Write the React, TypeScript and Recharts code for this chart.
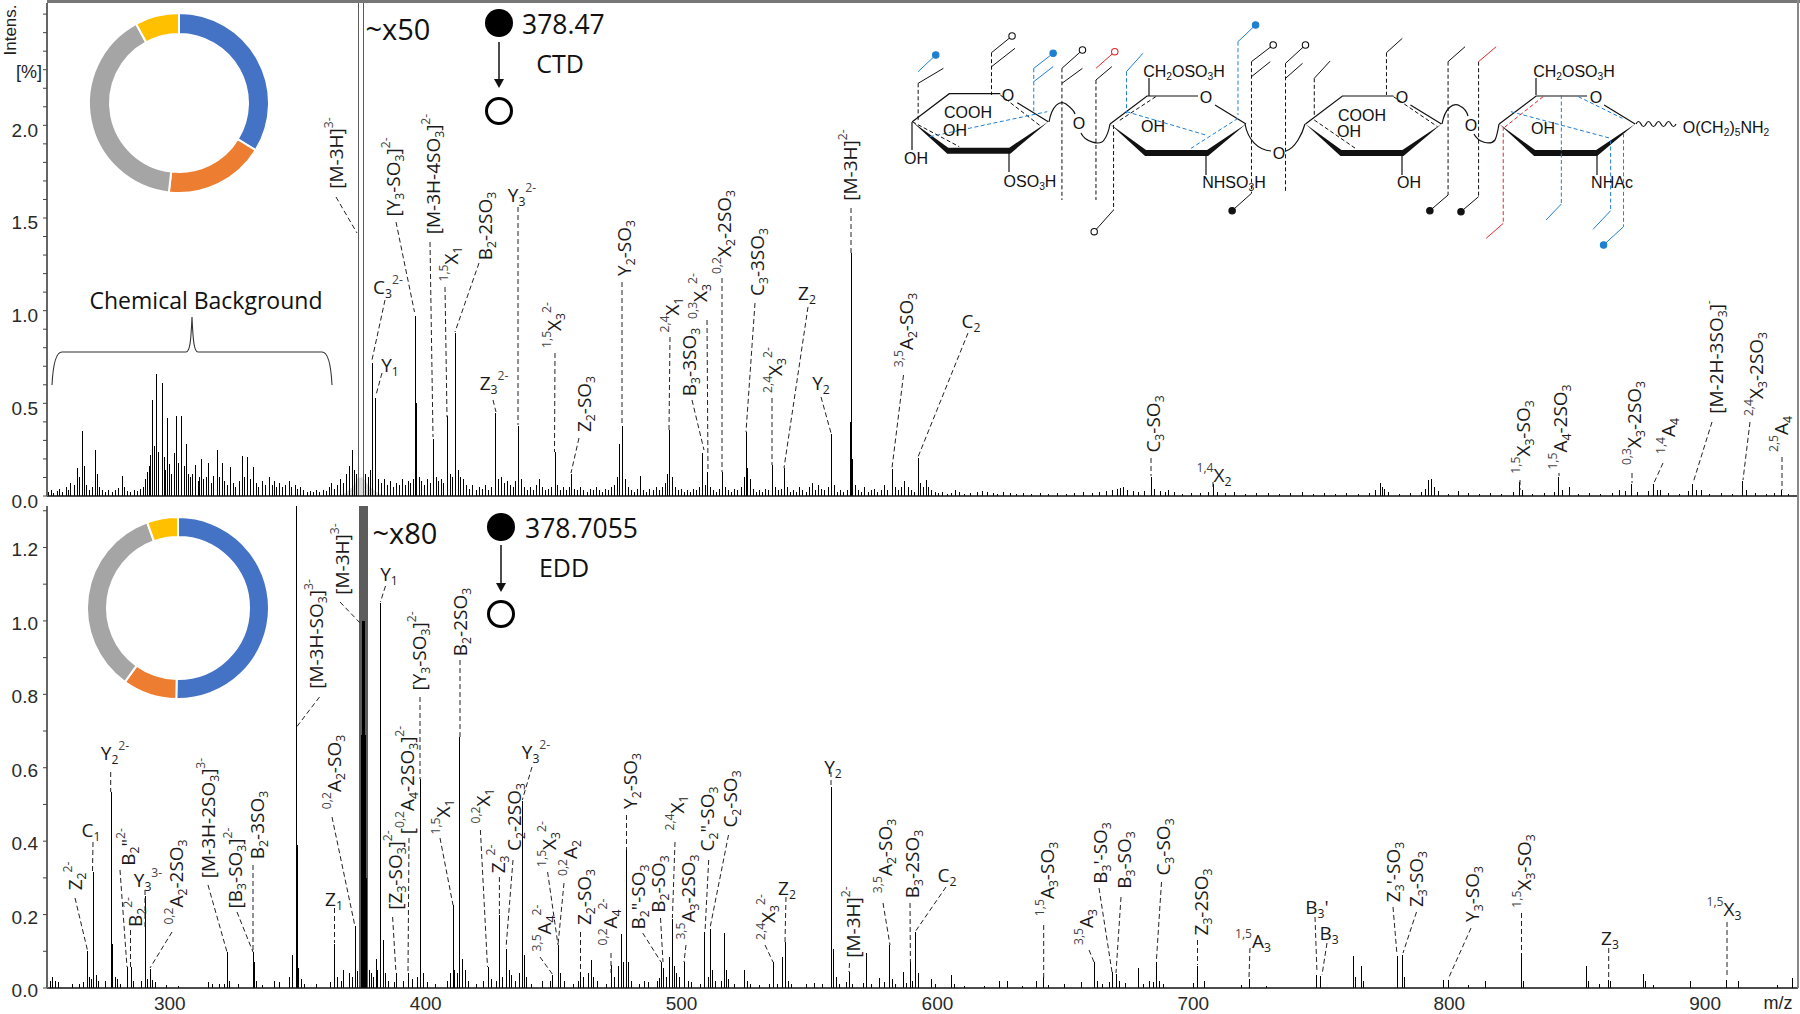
import { ComposedChart, Bar, Area, Cell, XAxis, YAxis, PieChart, Pie } from "recharts";

type Pair = [number, number];

// CTD spectrum (upper panel): m/z, relative intensity
const ctdPeaks: Pair[] = [
  [263.6, .15], [265.6, .35], [270.8, .25], [281.3, .11], [291, .13], [293.2, .52], [294.8, .66], [296.8, .61],
  [299, .42], [301.7, .23], [302.6, .43], [304.6, .43], [306.2, .28], [310, .165], [312.3, .2], [315, .18],
  [318.3, .25], [320.3, .18], [323.5, .155], [328.2, .215], [330.2, .21], [332.5, .155], [338.7, .1], [371.2, .25],
  [379.1, .72], [380.4, .53], [395.9, .97], [396.3, .5], [402.9, .31], [408.5, .43], [411.6, .88], [427.3, .45],
  [436, .38], [450.4, .24], [456.9, .12], [475.5, .28], [476.8, .38], [483.8, .11], [495.2, .355], [508.2, .23],
  [510, .13], [515.9, .13], [525.3, .345], [525.8, .15], [535.4, .165], [540.1, .15], [558.5, .335], [566.3, 1.31],
  [565.9, .4], [566.8, .2], [582.1, .147], [587.1, .08], [592.4, .205], [595.4, .085], [606.8, .03], [670.3, .04],
  [672.6, .05], [683.4, .105], [690.2, .03], [707.7, .065], [772.8, .07], [774.6, .04], [791.8, .085], [793, .09],
  [803.5, .025], [827.3, .075], [842.7, .1], [846.8, .05], [866.3, .03], [870.9, .067], [879.6, .067], [882.4, .03],
  [895, .067], [898.4, .03], [914.4, .08], [929.8, .03],
];
const ctdGrass: Pair[] = [
  [252.6, .02], [253.7, .03], [254.5, .015], [255.8, .025], [256.9, .04], [258.1, .02], [259.3, .05], [260.4, .03],
  [261.2, .07], [262.5, .06], [264.4, .1], [266.4, .16], [267.2, .06], [268.3, .03], [269.5, .05], [271.6, .12],
  [272.4, .05], [273.5, .03], [274.8, .02], [276, .035], [277.3, .02], [278.6, .03], [279.9, .045], [282.1, .05],
  [283.2, .025], [284.6, .02], [286, .03], [287.2, .025], [288.5, .04], [289.6, .05], [290.2, .09], [291.8, .16],
  [292.4, .22], [294, .27], [295.6, .24], [297.6, .21], [298.2, .14], [299.8, .17], [300.6, .12], [303.4, .18],
  [305.4, .16], [307, .12], [307.9, .1], [308.8, .12], [310.9, .08], [311.5, .1], [313.2, .09], [314.1, .1],
  [316, .07], [317, .11], [319.2, .1], [321.3, .08], [322.4, .06], [324.6, .07], [325.7, .05], [326.9, .08],
  [329.2, .1], [331.3, .09], [333.6, .07], [334.7, .05], [335.9, .08], [337.2, .06], [339.8, .06], [340.6, .08],
  [341.7, .05], [342.9, .07], [344, .05], [345.2, .06], [346.5, .08], [347.6, .05], [348.8, .06], [349.9, .04],
  [351, .05], [352.2, .03], [353.6, .02], [354.9, .025], [356.1, .02], [357.3, .03], [358.5, .02], [359.8, .03],
  [361, .025], [362.1, .05], [363, .07], [364.2, .04], [365.5, .06], [366.7, .09], [367.8, .07], [369, .12],
  [370.2, .16], [372.1, .14], [372.9, .12], [376.4, .12], [377.5, .1], [378.1, .14], [381.5, .09], [382.6, .07],
  [383.7, .09], [384.9, .06], [386, .08], [387.2, .05], [388.4, .07], [389.5, .06], [390.7, .09], [391.8, .06],
  [393, .08], [394.1, .07], [395, .09], [397.3, .1], [398.4, .08], [399.5, .06], [400.6, .09], [401.7, .07],
  [403.9, .1], [404.8, .08], [405.9, .09], [407, .07], [409.4, .12], [410.4, .1], [412.7, .14], [413.6, .1],
  [414.7, .09], [415.9, .06], [417.1, .04], [418.3, .06], [419.6, .03], [420.8, .05], [422, .04], [423.2, .06],
  [424.4, .03], [425.6, .05], [428.4, .09], [429.6, .1], [430.7, .07], [431.9, .08], [433, .06], [434.2, .05],
  [435.1, .08], [437.2, .09], [438.4, .05], [439.5, .03], [440.8, .05], [442, .03], [443.2, .06], [444.4, .09],
  [445.6, .05], [446.8, .03], [448, .04], [449.2, .05], [451.4, .06], [452.5, .03], [453.8, .05], [455, .03],
  [456.1, .05], [458, .04], [459.2, .03], [460.4, .05], [461.6, .03], [462.9, .02], [464.1, .04], [465.3, .03],
  [466.5, .05], [467.7, .03], [468.9, .02], [470.2, .04], [471.4, .03], [472.6, .05], [473.8, .06], [474.7, .1],
  [477.9, .09], [479, .05], [480.2, .03], [481.4, .02], [482.6, .04], [485, .03], [486.2, .02], [487.5, .04],
  [488.7, .03], [490, .05], [491.2, .03], [492.4, .05], [493.5, .07], [494.4, .12], [496.2, .1], [497.3, .05],
  [498.5, .03], [499.7, .04], [500.9, .02], [502.1, .03], [503.4, .02], [504.6, .04], [505.8, .03], [507, .05],
  [509.1, .06], [511.2, .05], [512.4, .03], [513.6, .02], [514.8, .04], [517, .05], [518.2, .03], [519.5, .02],
  [520.7, .04], [521.9, .03], [523.1, .05], [524.4, .1], [526.7, .09], [527.8, .04], [529, .02], [530.2, .03],
  [531.4, .02], [532.7, .04], [533.9, .03], [536.5, .05], [537.7, .03], [538.9, .04], [541.2, .05], [542.4, .02],
  [543.7, .03], [544.9, .02], [546.1, .05], [547.3, .03], [548.6, .02], [549.8, .05], [551, .07], [552.2, .03],
  [553.5, .06], [554.7, .04], [555.9, .03], [557.1, .05], [559.6, .06], [560.8, .02], [562, .03], [563.3, .02],
  [564.5, .03], [567.8, .06], [569, .03], [570.3, .02], [571.5, .05], [572.8, .02], [574, .03], [575.3, .04],
  [576.5, .02], [577.8, .03], [579, .06], [580.2, .03], [583.3, .05], [584.6, .03], [585.8, .05], [588.4, .05],
  [589.6, .03], [590.9, .02], [593.4, .07], [594.5, .05], [596.5, .05], [597.7, .03], [599, .02], [600.4, .015],
  [602, .02], [603.8, .012], [605.3, .018], [608.4, .02], [610.5, .012], [612.9, .018], [615.4, .02], [617.6, .025],
  [619.3, .02], [621.7, .018], [623.4, .012], [625.8, .02], [628.3, .015], [630.9, .012], [633.4, .018], [636.6, .012],
  [640, .015], [643.2, .012], [646.8, .018], [650.1, .012], [653.6, .015], [657, .02], [660.4, .015], [663.2, .02],
  [665.9, .025], [668.4, .03], [671.4, .045], [674.1, .03], [676.4, .025], [678.6, .02], [680.7, .025], [684.6, .04],
  [686.9, .025], [688.8, .02], [692.4, .02], [695.7, .012], [699.2, .018], [702.8, .015], [705.9, .02], [709.3, .02],
  [712.6, .015], [716.1, .02], [720.4, .012], [724.7, .015], [729.1, .018], [733.6, .012], [737.9, .015], [742.4, .02],
  [746.8, .012], [751.2, .015], [755.4, .012], [759.8, .018], [764.3, .012], [768.6, .018], [771.1, .03], [773.7, .05],
  [776.1, .02], [780.3, .012], [784.7, .018], [788.9, .02], [790.6, .04], [794.2, .05], [795.8, .025], [799.4, .012],
  [807.2, .015], [811.6, .012], [816.1, .018], [820.4, .012], [824.9, .02], [828.6, .03], [832.4, .012], [836.9, .015],
  [840.8, .02], [844.1, .03], [850.2, .012], [854.7, .015], [859.1, .012], [863.6, .018], [868.9, .025], [873.4, .02],
  [877.8, .025], [881.2, .03], [885.7, .015], [889.9, .012], [893.4, .025], [896.4, .03], [901.6, .012], [906.2, .015],
  [910.7, .012], [915.9, .03], [919.4, .015], [923.8, .012], [927.1, .015], [932.6, .012],
];
const ctdPrecursor: Pair[] = [[373.4, 2.66], [375.6, 2.66]];
const ctdIsolation: Pair[] = [[366, 0], [369, .02], [371.5, .05], [373.5, .1], [375.5, .1], [378, .05], [381, .02], [384, 0]];

// EDD spectrum (lower panel)
const eddPeaks: Pair[] = [
  [252.3, .057], [254, .03], [267.9, .1], [270, .316], [277, .534], [277.6, .12], [283.4, .057], [284.8, .057],
  [290.5, .25], [292.5, .053], [322.5, .098], [332.7, .098], [333, .07], [347.8, .089], [349.3, 1.313], [349.7, .39],
  [350.2, .055], [364.5, .12], [368, .05], [372.4, .17], [380.6, .08], [382.4, 1.05], [383.3, .13], [388.6, .04],
  [393.3, .04], [397.8, .568], [399, .04], [410.8, .225], [411.4, .05], [413.3, .684], [414.2, .08], [424.3, .057],
  [428.9, .198], [431.5, .107], [432.6, .05], [437.8, .51], [438.4, .09], [449.7, .035], [451.7, .116], [460.6, .044],
  [464.7, .075], [472.5, .062], [476.5, .148], [478.4, .375], [479.3, .07], [485.6, .02], [492.1, .07], [493, .055],
  [495.2, .084], [496.5, .189], [497.2, .06], [501.1, .07], [502.7, .02], [509.1, .153], [511.3, .162], [512.2, .05],
  [516.7, .15], [517.4, .05], [524.6, .05], [525.8, .02], [535.7, .07], [539.3, .084], [540.5, .125], [541.6, .02],
  [558.4, .548], [559.5, .107], [560.4, .03], [565.5, .044], [572.2, .095], [577.3, .028], [581.4, .116], [582.2, .025],
  [586.7, .044], [589.5, .07], [591.2, .153], [592.4, .04], [597.6, .025], [605.5, .035], [624.2, .02], [627.4, .02],
  [638.6, .02], [641.5, .03], [649.7, .012], [656.3, .016], [661.3, .07], [662.4, .02], [668.2, .044], [669.8, .038],
  [671.2, .02], [678.6, .054], [682.7, .018], [685.5, .07], [686.8, .02], [699.9, .014], [701.5, .06], [704.2, .02],
  [718.6, .008], [721.8, .025], [728.5, .006], [748.1, .036], [749.7, .032], [762.5, .086], [763.2, .03], [765.6, .059],
  [766.4, .02], [779.7, .086], [781.8, .09], [782.6, .03], [797.6, .022], [799.7, .022], [807.5, .008], [814.2, .018],
  [828.1, .095], [828.9, .02], [853.7, .059], [854.5, .02], [858.5, .012], [862.2, .023], [863.1, .02], [875.8, .038],
  [876.8, .02], [879.6, .008], [894.4, .018], [908.3, .022], [913, .018], [928.2, .008], [934.3, .028],
];
const eddGrass: Pair[] = [
  [253.2, .02], [255.4, .02], [256.3, .015], [262.1, .012], [264.6, .01], [266.3, .015], [268.6, .03], [269.2, .025],
  [271.2, .035], [272.1, .02], [274.7, .02], [278.6, .03], [279.4, .025], [280.8, .012], [285.7, .018], [288.7, .02],
  [291.4, .025], [293.3, .022], [294.4, .015], [298.8, .008], [303.2, .006], [315.2, .015], [316.7, .012], [319.4, .01],
  [321.2, .012], [323.4, .018], [326.7, .01], [334, .02], [336.3, .008], [340.7, .02], [342.8, .015], [346.7, .03],
  [351.4, .025], [352.6, .012], [357.2, .01], [362.6, .015], [365.6, .03], [367, .018], [370.3, .04], [371.2, .03],
  [373.4, .045], [378, .05], [378.8, .04], [379.7, .03], [381.2, .05], [384.3, .04], [385.4, .02], [387.6, .015],
  [391.4, .02], [394.8, .025], [396.7, .03], [400.6, .015], [403.8, .01], [408.6, .02], [409.8, .04], [412.2, .04],
  [415.4, .05], [416.6, .02], [419.8, .012], [422.6, .02], [425.6, .025], [427.7, .02], [430, .03], [433.5, .035],
  [434.9, .02], [436.7, .04], [439.4, .03], [441.3, .012], [445.5, .02], [448.6, .018], [452.7, .04], [454.3, .02],
  [457.6, .012], [459.5, .02], [461.8, .03], [463.5, .04], [465.7, .03], [466.9, .02], [470.6, .012], [473.7, .03],
  [475.3, .06], [477.4, .07], [480.4, .02], [483.6, .012], [487.2, .016], [490.4, .02], [491.2, .028], [494, .03],
  [498, .04], [499.3, .03], [503.8, .015], [507.5, .012], [510.3, .03], [513.4, .02], [515.6, .02], [518.4, .025],
  [520.8, .01], [527, .012], [530.4, .008], [534.4, .012], [537.6, .012], [542.8, .012], [548.7, .012], [551.8, .014],
  [555, .012], [561.6, .012], [564.3, .015], [566.6, .012], [571, .014], [574.1, .012], [579.3, .016], [583.6, .012],
  [588, .014], [590.2, .02], [599.2, .01], [606.6, .01], [610.4, .006], [618.3, .006], [633.1, .006], [643.2, .008],
  [664.4, .012], [667, .015], [673.3, .014], [680.4, .012], [684.2, .015], [688.3, .012],
];
const eddPrecursorTop: Pair[] = [[374, 1.313], [374.4, 1.313], [374.8, 1.313], [375.2, 1.313], [375.6, 1.313], [376, 1.313], [376.4, 1.313], [376.8, 1.313], [377.1, 1.313]];
const eddPrecursorCore: Pair[] = [[374.8, .69], [375.2, 1], [375.6, 1], [376, 1], [376.4, .69], [376.8, .3]];

// ion type shares of the two donuts
const donutNames = ["glycosidic", "cross-ring", "sulfate loss", "other"];
const ctdShares = [33.8, 18, 40.3, 7.9];
const eddShares = [50.3, 9.6, 34.6, 5.5];
const donutColors = ["#4472C4", "#ED7D31", "#A5A5A5", "#FFC000"];

const ctdTicks = [0, .1, .2, .3, .4, .5, .6, .7, .8, .9, 1, 1.1, 1.2, 1.3, 1.4, 1.5, 1.6, 1.7, 1.8, 1.9, 2, 2.1, 2.2, 2.3, 2.4, 2.5, 2.6];
const ctdMajor = [0, .5, 1, 1.5, 2];
const eddTicks = [0, .1, .2, .3, .4, .5, .6, .7, .8, .9, 1, 1.1, 1.2, 1.3];
const eddMajor = [0, .2, .4, .6, .8, 1, 1.2];
const mzTicks = [300, 400, 500, 600, 700, 800, 900];

const labelFont = "'Open Sans', sans-serif";
const axisFont = "'Liberation Sans', Arial, sans-serif";

type Row = { mz: number; i: number; tone?: string; hump?: number };

function buildRows(peaks: Pair[], grass: Pair[], under: Pair[] = [], hump: Pair[] = []): Row[] {
  const rows: Row[] = [
    ...under.map(([mz, i]) => ({ mz, i, tone: "#5c5c5c" })),
    ...grass.map(([mz, i]) => ({ mz, i })),
    ...peaks.map(([mz, i]) => ({ mz, i })),
    ...hump.map(([mz, h]) => ({ mz, i: 0, hump: h })),
  ];
  return rows.sort((a, b) => a.mz - b.mz);
}

const ctdRows = buildRows(ctdPeaks, ctdGrass, ctdPrecursor, ctdIsolation);
const eddRows = buildRows([...eddPeaks, ...eddPrecursorCore], eddGrass, eddPrecursorTop);

function YTick({ x, y, payload, major, labelDrop }: any) {
  const isMajor = major.includes(payload.value);
  return (
    <g>
      <line x1={x} x2={x - 4} y1={y} y2={y} stroke="#444" strokeWidth={1} />
      {isMajor && (
        <text x={x - 9} y={y + labelDrop} textAnchor="end" dominantBaseline="central" fontSize={19} fontFamily={axisFont} fill="#2a2a2a">
          {payload.value.toFixed(1)}
        </text>
      )}
    </g>
  );
}

// 1px stick, snapped to the pixel grid so thin peaks stay dark
function Stick(p: any) {
  if (!p.height || p.height <= 0) return null;
  const tone = p.tone || (p.payload && p.payload.tone) || "#000";
  return <rect x={Math.round(p.x)} y={p.y} width={1} height={p.height} fill={tone} shapeRendering="crispEdges" />;
}

function Spectrum({ rows, top, height, plotTop, xHeight, domainTop, ticks, major, showMz, hasHump, labelDrop }: any) {
  return (
    <div style={{ position: "absolute", left: 0, top }}>
      <ComposedChart width={1800} height={height} data={rows} margin={{ top: plotTop, right: 2, left: 0, bottom: 0 }}>
        <XAxis
          dataKey="mz"
          type="number"
          domain={[252, 936.3]}
          allowDataOverflow
          ticks={showMz ? mzTicks : []}
          height={xHeight}
          interval={0}
          axisLine={{ stroke: "#111", strokeWidth: 1.5 }}
          tickLine={false}
          tick={{ fontSize: 19, fontFamily: axisFont, fill: "#2a2a2a" }}
          tickMargin={3}
        />
        <YAxis
          type="number"
          width={47}
          domain={[0, domainTop]}
          allowDataOverflow
          ticks={ticks}
          interval={0}
          tickSize={0}
          tickMargin={0}
          axisLine={{ stroke: "#666", strokeWidth: 2 }}
          tickLine={false}
          tick={(p: any) => <YTick {...p} major={major} labelDrop={labelDrop} />}
        />
        {hasHump && (
          <Area dataKey="hump" type="linear" connectNulls fill="#d9d9d9" fillOpacity={1} stroke="none" dot={false} isAnimationActive={false} />
        )}
        <Bar dataKey="i" barSize={1} isAnimationActive={false} fill="#000" shape={Stick} />
      </ComposedChart>
    </div>
  );
}

function Donut({ shares, left, top, inner, outer }: any) {
  const data = shares.map((value: number, k: number) => ({ name: donutNames[k], value }));
  return (
    <div style={{ position: "absolute", left, top }}>
      <PieChart width={200} height={200} margin={{ top: 0, right: 0, bottom: 0, left: 0 }}>
        <Pie
          data={data}
          dataKey="value"
          cx={100}
          cy={100}
          innerRadius={inner}
          outerRadius={outer}
          startAngle={90}
          endAngle={-270}
          stroke="#fff"
          strokeWidth={2}
          isAnimationActive={false}
        >
          {data.map((_: any, k: number) => (
            <Cell key={k} fill={donutColors[k]} />
          ))}
        </Pie>
      </PieChart>
    </div>
  );
}

// {x} is a subscript, <x> a superscript
function Rich({ s, x, y, size = 19, rot = 0, font = labelFont, fill = "#1a1a1a", anchor = "middle" }: any) {
  const parts = s.split(/(\{[^}]*\}|<[^>]*>)/).filter(Boolean);
  let shift = 0;
  const spans = parts.map((p: string, k: number) => {
    const sub = p[0] === "{";
    const sup = p[0] === "<";
    const target = sub ? size * 0.3 : sup ? -size * 0.42 : 0;
    const dy = target - shift;
    shift = target;
    return (
      <tspan key={k} dy={dy} fontSize={sub || sup ? size * 0.64 : size} fill={sup ? "#444" : fill}>
        {sub || sup ? p.slice(1, -1) : p}
      </tspan>
    );
  });
  return (
    <text
      x={x}
      y={y}
      textAnchor={anchor}
      dominantBaseline="central"
      fontFamily={font}
      fontSize={size}
      transform={rot ? `rotate(${rot} ${x} ${y})` : undefined}
    >
      {spans}
    </text>
  );
}

// label, x, y, rotation, leader x1, y1, x2, y2
const ctdLabels: any[] = [
  ["[M-3H]<3->", 336, 153, -90, 336, 197, 357, 233],
  ["[Y{3}-SO{3}]<2->", 393, 177, -90, 396, 222, 414.5, 312],
  ["[M-3H-4SO{3}]<2->", 433, 174, -90, 430, 242, 433, 437],
  ["<1,5>X{1}", 451, 264, -90, 445, 287, 447, 417],
  ["B{2}-2SO{3}", 485, 226, -90, 479, 263, 455, 332],
  ["Y{3}<2->", 522, 195, 0, 518, 207, 518, 425],
  ["C{3}<2->", 388, 287, 0, 385, 300, 372, 360],
  ["Y{1}", 390, 365, 0, 382, 373, 376, 395],
  ["Z{3}<2->", 494, 383, 0, 493, 400, 496, 412],
  ["<1,5>X{3}<2->", 554, 325, -90, 555, 353, 554.5, 452],
  ["Z{2}-SO{3}", 584, 404, -90, 579, 438, 571, 473],
  ["Y{2}-SO{3}", 624, 248, -90, 622, 282, 622, 425],
  ["<2,4>X{1}", 672, 315, -90, 670, 337, 669, 430],
  ["B{3}-3SO{3}", 689, 362, -90, 692, 400, 704, 450],
  ["<0,3>X{3}<2->", 700, 296, -90, 707, 320, 708, 472],
  ["<0,2>X{2}-2SO{3}", 724, 232, -90, 722, 278, 722, 472],
  ["C{3}-3SO{3}", 757, 262, -90, 755, 303, 746, 432],
  ["Z{2}", 807, 293, 0, 808, 307, 784, 468],
  ["<2,4>X{3}<2->", 775, 370, -90, 772, 398, 772, 465],
  ["Y{2}", 821, 383, 0, 821, 397, 831, 433],
  ["[M-3H]<2->", 850, 165, -90, 851, 208, 851, 253],
  ["<3,5>A{2}-SO{3}", 906, 330, -90, 903.5, 375, 892, 468],
  ["C{2}", 971, 321, 0, 968, 333, 918, 457],
  ["C{3}-SO{3}", 1153, 424, -90, 1151, 458, 1151, 476],
  ["<1,4>X{2}", 1214, 475, 0, 1213, 482, 1213, 490],
  ["<1,5>X{3}-SO{3}", 1523, 437, -90, 1520, 480, 1520, 490],
  ["<1,5>A{4}-2SO{3}", 1560, 427, -90, 1559, 473, 1559, 476],
  ["<0,3>X{3}-2SO{3}", 1634, 423, -90, 1632, 473, 1632, 483],
  ["<1,4>A{4}", 1668, 436, -90, 1663, 463, 1653, 485],
  ["[M-2H-3SO{3}]<->", 1716, 357, -90, 1712, 422, 1693, 483],
  ["<2,4>X{3}-2SO{3}", 1756, 374, -90, 1750, 422, 1743, 480],
  ["<2,5>A{4}", 1781, 434, -90, 1782, 457, 1782, 490],
];
const eddLabels: any[] = [
  ["Z{2}<2->", 75, 876, -90, 75, 898, 87.4, 950],
  ["C{1}", 91, 830, 0, 93, 842, 92.5, 872],
  ["Y{2}<2->", 115, 753, 0, 110.7, 772, 110.7, 792],
  ["B{2}\"<2->", 128, 847, -90, 120, 870, 127, 967],
  ["B{2}<2->", 135, 912, -90, 130.5, 930, 130.5, 967],
  ["Y{3}<3->", 148, 880, 0, 145, 890, 145, 930],
  ["<0,2>A{2}-2SO{3}", 176, 882, -90, 172, 932, 150, 968],
  ["[M-3H-2SO{3}]<3->", 208, 818, -90, 208, 885, 227, 952],
  ["[B{3}-SO{3}]<2->", 235, 868, -90, 237, 912, 253, 952],
  ["B{2}-3SO{3}", 257, 825, -90, 253, 865, 253, 952],
  ["[M-3H-SO{3}]<3->", 316, 634, -90, 319.5, 697, 296.6, 727],
  ["[M-3H]<3->", 342, 559, -90, 340, 602, 362, 625],
  ["<0,2>A{2}-SO{3}", 334, 772, -90, 332, 817, 354.7, 925],
  ["Z{1}", 334, 899, 0, 334.5, 908, 334.5, 943],
  ["Y{1}", 389, 574, 0, 385.5, 586, 380.4, 602],
  ["[Y{3}-SO{3}]<2->", 419, 651, -90, 420, 697, 420, 779],
  ["[<0,2>A{4}-2SO{3}]<2->", 407, 780, -90, 409, 838, 408, 973],
  ["[Z{3}-SO{3}]<2->", 395, 870, -90, 392.6, 917, 396, 973],
  ["B{2}-2SO{3}", 460, 622, -90, 460, 660, 460, 737],
  ["<1,5>X{1}", 443, 817, -90, 440, 838, 453, 905],
  ["<0,2>X{1}", 483, 806, -90, 480.4, 830, 487.5, 967],
  ["Z{3}<2->", 498, 859, -90, 499.4, 877, 499.4, 915],
  ["C{2}-2SO{3}", 514, 817, -90, 513, 860, 506, 948],
  ["Y{3}<2->", 536, 752, 0, 532, 767, 522.3, 800],
  ["<1,5>X{3}<2->", 549, 844, -90, 547.6, 872, 558, 945],
  ["<0,2>A{2}", 570, 858, -90, 564, 883, 558, 945],
  ["<3,5>A{4}<2->", 544, 928, -90, 540, 957, 553, 975],
  ["Z{2}-SO{3}", 584, 897, -90, 580.5, 932, 580.5, 972],
  ["<0,2>A{4}<2->", 610, 922, -90, 611, 953, 611, 973],
  ["Y{2}-SO{3}", 630, 781, -90, 626.5, 815, 626.5, 850],
  ["B{2}\"-SO{3}", 638, 897, -90, 642.7, 933, 661, 962],
  ["B{2}-SO{3}", 658, 884, -90, 660.5, 918, 663, 962],
  ["<2,4>X{1}", 677, 813, -90, 675, 842, 672.4, 918],
  ["<3,5>A{3}-2SO{3}", 688, 897, -90, 686, 945, 684, 962],
  ["C{2}\"-SO{3}", 707, 819, -90, 708.7, 860, 705, 932],
  ["C{2}-SO{3}", 730, 799, -90, 728.5, 835, 710, 928],
  ["<2,4>X{3}<2->", 768, 917, -90, 765, 945, 773, 962],
  ["Z{2}", 787, 888, 0, 786, 897, 785, 942],
  ["Y{2}", 833, 767, 0, 831, 772, 831, 787],
  ["[M-3H]<2->", 853, 922, -90, 849.5, 963, 849, 972],
  ["<3,5>A{2}-SO{3}", 885, 856, -90, 883, 903, 890, 945],
  ["B{3}-2SO{3}", 912, 864, -90, 910, 903, 910.4, 962],
  ["C{2}", 947, 875, 0, 946, 887, 915, 932],
  ["<1,5>A{3}-SO{3}", 1047, 879, -90, 1043.7, 925, 1043.7, 980],
  ["<3,5>A{3}", 1086, 927, -90, 1089, 950, 1094, 962],
  ["B{3}'-SO{3}", 1100, 853, -90, 1099, 888, 1112, 972],
  ["B{3}-SO{3}", 1124, 860, -90, 1121, 897, 1116, 973],
  ["C{3}-SO{3}", 1163, 847, -90, 1161.5, 882, 1156.3, 962],
  ["Z{3}-2SO{3}", 1201, 902, -90, 1197.5, 940, 1197.5, 965],
  ["<1,5>A{3}", 1253, 941, 0, 1250, 948, 1249, 977],
  ["B{3}'", 1317, 907, 0, 1315, 917, 1317, 973],
  ["B{3}", 1329, 933, 0, 1327, 943, 1322, 975],
  ["Z{3}'-SO{3}", 1393, 872, -90, 1393, 907, 1397, 955],
  ["Z{3}-SO{3}", 1416, 879, -90, 1416.5, 912, 1403, 953],
  ["Y{3}-SO{3}", 1472, 894, -90, 1471, 928, 1448.6, 978],
  ["<1,5>X{3}-SO{3}", 1524, 871, -90, 1521.5, 913, 1521.5, 952],
  ["Z{3}", 1610, 938, 0, 1608.7, 948, 1608.7, 978],
  ["<1,5>X{3}", 1724, 909, 0, 1727, 922, 1727, 978],
];

function IonLabels({ items }: any) {
  return items.map((l: any, k: number) => (
    <g key={k}>
      <line x1={l[4]} y1={l[5]} x2={l[6]} y2={l[7]} stroke="#222" strokeWidth={1} strokeDasharray="5 3" />
      <Rich s={l[0]} x={l[1]} y={l[2]} rot={l[3]} />
    </g>
  ));
}

const sx = (x: number) => 880 + x / 1.704;
const sy = (y: number) => y / 3;
const BLUE = "#1f7fd0";
const RED = "#e8262a";
const BLK = "#111";

const ringLefts = [[55, 365], [392, 372], [725, 372], [1055, 372]];
// color, dashed part x1 y1 x2 y2
const cuts: any[] = [
  [BLK, 65, 250, 65, 365], [BLK, 190, 158, 190, 285], [BLUE, 262, 205, 262, 340], [BLK, 310, 205, 310, 600],
  [BLK, 368, 240, 368, 600], [BLUE, 420, 215, 420, 340], [BLK, 398, 375, 398, 630], [BLUE, 610, 125, 610, 345],
  [BLK, 633, 185, 633, 580], [BLK, 691, 190, 691, 580], [BLK, 740, 235, 740, 345], [BLK, 863, 158, 863, 285],
  [BLK, 968, 185, 968, 585], [BLK, 1020, 185, 1020, 590], [RED, 1062, 380, 1062, 670], [BLUE, 1161, 285, 1161, 612],
  [BLUE, 1245, 420, 1245, 632], [BLUE, 1267, 400, 1267, 680],
  [BLK, 55, 365, 135, 440], [BLK, 205, 285, 275, 380], [BLUE, 85, 410, 285, 335],
  [BLUE, 420, 335, 555, 405], [BLUE, 610, 355, 530, 445], [BLK, 470, 290, 405, 365],
  [BLK, 740, 360, 810, 445], [BLK, 875, 290, 950, 380],
  [BLUE, 1075, 335, 1245, 415], [BLUE, 1190, 290, 1265, 355], [RED, 1130, 290, 1062, 385],
];
// color, solid flag x1 y1 x2 y2, end mark
const flags: any[] = [
  [BLUE, 65, 215, 95, 165, "dot"], [BLK, 65, 250, 108, 205, ""], [BLK, 190, 158, 225, 108, "open"], [BLK, 190, 200, 230, 145, ""],
  [BLUE, 262, 205, 295, 160, "dot"], [BLUE, 262, 245, 295, 200, ""], [BLK, 310, 205, 345, 150, "open"], [BLK, 310, 250, 345, 205, ""],
  [RED, 368, 205, 400, 155, "open"], [BLK, 368, 240, 395, 200, ""], [BLUE, 420, 215, 448, 160, ""], [BLK, 398, 630, 365, 695, "open"],
  [BLUE, 610, 125, 640, 75, "dot"], [BLK, 633, 185, 670, 135, "open"], [BLK, 633, 230, 665, 185, ""], [BLK, 633, 580, 600, 632, "dot"],
  [BLK, 691, 190, 725, 135, "open"], [BLK, 691, 235, 720, 190, ""], [BLK, 740, 235, 767, 183, ""], [BLK, 863, 158, 890, 115, ""],
  [BLK, 968, 185, 997, 140, ""], [BLK, 968, 585, 937, 632, "dot"], [RED, 1020, 185, 1050, 140, ""], [BLK, 1020, 590, 990, 635, "dot"],
  [RED, 1062, 670, 1033, 715, ""], [BLUE, 1161, 612, 1135, 660, ""], [BLUE, 1245, 632, 1215, 688, ""], [BLUE, 1267, 680, 1233, 735, "dot"],
];
const structureText: any[] = [
  ["COOH", 968, 112], ["OH", 955, 130], ["OH", 916, 158], ["OSO{3}H", 1030, 181],
  ["CH{2}OSO{3}H", 1184, 71], ["OH", 1153, 126], ["NHSO{3}H", 1234, 182],
  ["COOH", 1362, 115], ["OH", 1349, 131], ["OH", 1409, 182],
  ["CH{2}OSO{3}H", 1574, 71], ["OH", 1543, 128], ["NHAc", 1612, 182],
  ["O(CH{2}){5}NH{2}", 1726, 127],
  ["O", 1008, 95], ["O", 1206, 97], ["O", 1402, 97], ["O", 1596, 97], ["O", 1079, 123], ["O", 1279, 153], ["O", 1471, 125],
];
const ringBonds: number[][] = [
  [912, 122, 912, 150], [1009, 153, 1009, 172], [1206, 153, 1206, 175], [1402, 153, 1402, 175], [1597, 153, 1597, 175],
  [1149, 96, 1149, 78], [1536, 95, 1536, 78],
];
const linkers = [
  "M1049 122 C1052 105 1060 100 1066 104 C1070 107 1074 110 1075 114",
  "M1081 133 C1085 142 1100 146 1104 140 C1107 136 1109 130 1110 124",
  "M1245 124 C1248 140 1258 150 1271 151",
  "M1286 151 C1295 148 1302 135 1305 124",
  "M1442 124 C1445 108 1453 102 1460 106 C1464 108 1467 112 1468 116",
  "M1474 134 C1478 142 1490 146 1495 140 C1497 136 1498 130 1499 124",
  "M1636 124 q2.5 -5 5 0 t5 0 t5 0 t5 0 t5 0 t5 0 t5 0 t5 0",
];

function Structure() {
  return (
    <g>
      {ringLefts.map((r, k) => {
        const lx = sx(r[0]);
        const ly = sy(r[1]);
        return (
          <g key={k}>
            <path
              d={`M${lx} ${ly} L${lx + 37} ${ly - 28} L${lx + 88} ${ly - 28} M${lx + 105} ${ly - 19} L${lx + 136} ${ly}`}
              fill="none"
              stroke={BLK}
              strokeWidth={1.2}
            />
            <polygon
              points={`${lx},${ly} ${lx + 36},${ly + 26} ${lx + 97},${ly + 26} ${lx + 136},${ly} ${lx + 98},${ly + 32} ${lx + 35},${ly + 32}`}
              fill={BLK}
            />
          </g>
        );
      })}
      {ringBonds.map((b, k) => (
        <line key={k} x1={b[0]} y1={b[1]} x2={b[2]} y2={b[3]} stroke={BLK} strokeWidth={1.2} />
      ))}
      {linkers.map((d, k) => (
        <path key={k} d={d} fill="none" stroke={BLK} strokeWidth={1.2} />
      ))}
      {cuts.map((c, k) => (
        <line key={k} x1={sx(c[1])} y1={sy(c[2])} x2={sx(c[3])} y2={sy(c[4])} stroke={c[0]} strokeWidth={1} strokeDasharray="4 2.5" />
      ))}
      {flags.map((f, k) => (
        <g key={k}>
          <line x1={sx(f[1])} y1={sy(f[2])} x2={sx(f[3])} y2={sy(f[4])} stroke={f[0]} strokeWidth={1} />
          {f[5] && (
            <circle
              cx={sx(f[3])}
              cy={sy(f[4])}
              r={3.2}
              fill={f[5] === "dot" ? f[0] : "#fff"}
              stroke={f[0]}
              strokeWidth={1.1}
            />
          )}
        </g>
      ))}
      {structureText.map((t, k) => (
        <Rich key={k} s={t[0]} x={t[1]} y={t[2]} size={16} font={axisFont} fill="#111" />
      ))}
    </g>
  );
}

function Arrow({ x, y1, y2 }: any) {
  return (
    <g>
      <line x1={x} y1={y1} x2={x} y2={y2 - 8} stroke="#111" strokeWidth={1.5} />
      <polygon points={`${x - 5},${y2 - 9} ${x + 5},${y2 - 9} ${x},${y2}`} fill="#111" />
    </g>
  );
}

function Overlay() {
  return (
    <svg width={1800} height={1014} style={{ position: "absolute", left: 0, top: 0, pointerEvents: "none" }}>
      {/* frame */}
      <line x1={47} y1={1.5} x2={1800} y2={1.5} stroke="#777" strokeWidth={3} />
      <line x1={1798} y1={0} x2={1798} y2={988} stroke="#888" strokeWidth={2} />

      <text x={10} y={30} textAnchor="middle" dominantBaseline="central" fontFamily={axisFont} fontSize={17} fill="#222" transform="rotate(-90 10 30)">Intens.</text>
      <text x={29} y={72} textAnchor="middle" dominantBaseline="central" fontFamily={axisFont} fontSize={18} fill="#222">[%]</text>
      <text x={1778} y={1003} textAnchor="middle" dominantBaseline="central" fontFamily={axisFont} fontSize={18} fill="#222">m/z</text>

      <text x={398} y={28} textAnchor="middle" dominantBaseline="central" fontFamily={labelFont} fontSize={29} fill="#111">~x50</text>
      <circle cx={499} cy={23} r={14} fill="#000" />
      <text x={522} y={24} dominantBaseline="central" fontFamily={labelFont} fontSize={26.5} fill="#111">378.47</text>
      <text x={560} y={63} textAnchor="middle" dominantBaseline="central" fontFamily={labelFont} fontSize={25} fill="#111">CTD</text>
      <Arrow x={499} y1={42} y2={88} />
      <circle cx={499} cy={111} r={12.5} fill="#fff" stroke="#000" strokeWidth={3} />

      <text x={405} y={532} textAnchor="middle" dominantBaseline="central" fontFamily={labelFont} fontSize={29} fill="#111">~x80</text>
      <circle cx={501} cy={527} r={14} fill="#000" />
      <text x={525} y={528} dominantBaseline="central" fontFamily={labelFont} fontSize={26.5} fill="#111">378.7055</text>
      <text x={564} y={567} textAnchor="middle" dominantBaseline="central" fontFamily={labelFont} fontSize={25} fill="#111">EDD</text>
      <Arrow x={501} y1={545} y2={592} />
      <circle cx={501} cy={614} r={12.5} fill="#fff" stroke="#000" strokeWidth={3} />

      <text x={206} y={300} textAnchor="middle" dominantBaseline="central" fontFamily={labelFont} fontSize={23} fill="#111">Chemical Background</text>
      <path
        d="M52 385 C53 365 56 352 62 352 L186 352 C190 352 191 340 192 317 C193 340 194 352 198 352 L322 352 C328 352 331 365 332 385"
        fill="none"
        stroke="#333"
        strokeWidth={1.1}
      />

      <IonLabels items={ctdLabels} />
      <IonLabels items={eddLabels} />
      <Structure />
    </svg>
  );
}

export default function App() {
  return (
    <div style={{ position: "absolute", left: 0, top: 0, width: 1800, height: 1014, background: "#fff", overflow: "hidden" }}>
      <Spectrum rows={ctdRows} top={0} height={525} plotTop={3} xHeight={29} domainTop={2.66} ticks={ctdTicks} major={ctdMajor} hasHump labelDrop={5} />
      <Spectrum rows={eddRows} top={500} height={534} plotTop={6} xHeight={46} domainTop={1.313} ticks={eddTicks} major={eddMajor} showMz labelDrop={2.5} />
      <Donut shares={ctdShares} left={78.5} top={3} inner={69} outer={90} />
      <Donut shares={eddShares} left={78} top={508} inner={71} outer={91} />
      <Overlay />
    </div>
  );
}
